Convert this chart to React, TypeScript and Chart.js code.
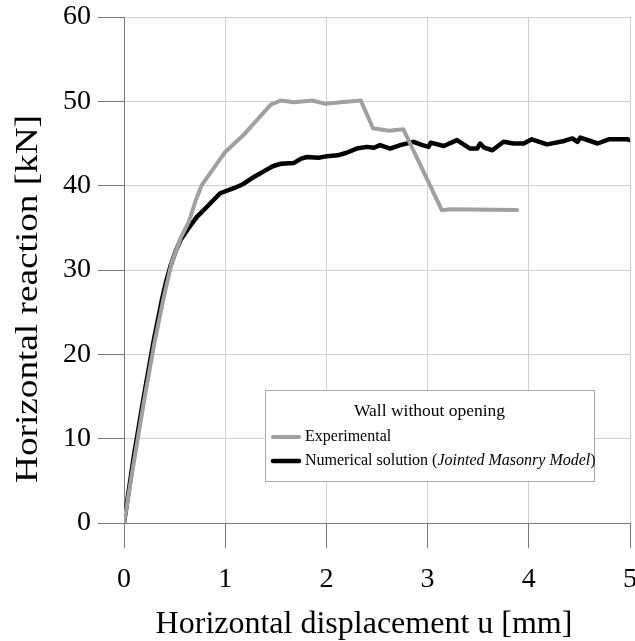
import React, { useEffect, useRef } from "react";
import { Chart, registerables } from "chart.js";

Chart.register(...registerables);

const expX = [0, 0.1, 0.2, 0.3, 0.39, 0.47, 0.56, 0.64, 0.71, 0.77, 1.0, 1.18, 1.45, 1.55, 1.68, 1.86, 1.99, 2.14, 2.34, 2.46, 2.62, 2.76, 3.14, 3.23, 3.885];
const expY = [0, 7.4, 14.6, 21.3, 26.6, 30.8, 33.8, 35.7, 38.3, 40.1, 44.0, 46.0, 49.6, 50.1, 49.9, 50.1, 49.7, 49.9, 50.1, 46.8, 46.5, 46.7, 37.1, 37.2, 37.1];

const numX = [0, 0.097, 0.196, 0.295, 0.377, 0.42, 0.46, 0.51, 0.56, 0.64, 0.72, 0.82, 0.95, 1.085, 1.18, 1.28, 1.38, 1.47, 1.55, 1.68, 1.75, 1.81, 1.92, 2.01, 2.11, 2.2, 2.3, 2.4, 2.47, 2.53, 2.63, 2.73, 2.86, 2.95, 3.01, 3.03, 3.16, 3.29, 3.42, 3.49, 3.52, 3.56, 3.64, 3.75, 3.85, 3.95, 4.03, 4.18, 4.35, 4.43, 4.48, 4.51, 4.68, 4.79, 4.97, 5.0];
const numY = [0, 7.9, 15.0, 21.7, 26.6, 28.8, 30.5, 32.2, 33.6, 35.0, 36.3, 37.5, 39.1, 39.7, 40.2, 41.0, 41.7, 42.3, 42.6, 42.7, 43.2, 43.4, 43.3, 43.5, 43.6, 43.9, 44.4, 44.6, 44.5, 44.8, 44.4, 44.8, 45.2, 44.8, 44.6, 45.1, 44.7, 45.4, 44.4, 44.4, 45.0, 44.5, 44.2, 45.2, 45.0, 45.0, 45.5, 44.9, 45.3, 45.6, 45.2, 45.7, 45.0, 45.5, 45.5, 45.4];

const legendTitle = "Wall without opening";
const expLabel = "Experimental";
const numLabelPlain = "Numerical solution (";
const numLabelItalic = "Jointed Masonry Model";
const numLabelEnd = ")";
const xTitle = "Horizontal displacement u [mm]";
const yTitle = "Horizontal reaction [kN]";

const SERIF = "'Liberation Serif', 'Times New Roman', serif";
const GRAY = "#a0a0a0";

const titlesPlugin = {
  id: "axisTitles",
  afterDraw(chart: any) {
    const { ctx, chartArea } = chart;
    ctx.save();
    ctx.fillStyle = "#000";
    ctx.font = `32px ${SERIF}`;
    ctx.textAlign = "center";
    ctx.textBaseline = "alphabetic";
    ctx.fillText(xTitle, chartArea.left + 240, chartArea.bottom + 110);
    const w = ctx.measureText(yTitle).width;
    const sx = 368 / w;
    ctx.translate(37, chartArea.top + 282);
    ctx.rotate(-Math.PI / 2);
    ctx.scale(sx, 1);
    ctx.fillText(yTitle, 0, 0);
    ctx.restore();
  },
};

const legendPlugin = {
  id: "boxLegend",
  afterDraw(chart: any) {
    const { ctx, chartArea } = chart;
    const left = chartArea.left + 141;
    const top = chartArea.top + 373;
    const w = 329;
    const h = 91;
    ctx.save();
    ctx.fillStyle = "#ffffff";
    ctx.fillRect(left, top, w, h);
    ctx.strokeStyle = "#a8a8a8";
    ctx.lineWidth = 1;
    ctx.strokeRect(left + 0.5, top + 0.5, w, h);
    ctx.fillStyle = "#000";
    ctx.textBaseline = "middle";
    ctx.textAlign = "center";
    ctx.font = `17.5px ${SERIF}`;
    ctx.fillText(legendTitle, left + w / 2, top + 21);
    ctx.textAlign = "left";
    const items = [
      { color: GRAY, y: top + 47, width: 4 },
      { color: "#000", y: top + 71, width: 4.5 },
    ];
    items.forEach((it) => {
      ctx.strokeStyle = it.color;
      ctx.lineWidth = it.width;
      ctx.lineCap = "round";
      ctx.beginPath();
      ctx.moveTo(left + 8, it.y);
      ctx.lineTo(left + 34, it.y);
      ctx.stroke();
    });
    ctx.font = `16px ${SERIF}`;
    const tx = left + 40;
    ctx.fillText(expLabel, tx, items[0].y);
    let x = tx;
    ctx.fillText(numLabelPlain, x, items[1].y);
    x += ctx.measureText(numLabelPlain).width;
    ctx.font = `italic 16px ${SERIF}`;
    ctx.fillText(numLabelItalic, x, items[1].y);
    x += ctx.measureText(numLabelItalic).width;
    ctx.font = `16px ${SERIF}`;
    ctx.fillText(numLabelEnd, x, items[1].y);
    ctx.restore();
  },
};

export default function App() {
  const ref = useRef<HTMLCanvasElement>(null);
  useEffect(() => {
    if (!ref.current) return;
    const chart = new Chart(ref.current, {
      type: "line",
      data: {
        datasets: [
          {
            label: expLabel,
            data: expX.map((x, i) => ({ x, y: expY[i] })),
            borderColor: GRAY,
            borderWidth: 4,
            pointRadius: 0,
            tension: 0,
            borderJoinStyle: "round",
            borderCapStyle: "round",
          },
          {
            label: "Numerical solution",
            data: numX.map((x, i) => ({ x, y: numY[i] })),
            borderColor: "#000",
            borderWidth: 4.5,
            pointRadius: 0,
            tension: 0,
            borderJoinStyle: "round",
            borderCapStyle: "round",
          },
        ],
      },
      options: {
        responsive: false,
        animation: false,
        layout: { padding: { top: 17, right: 5, left: 0, bottom: 0 } },
        plugins: { legend: { display: false }, tooltip: { enabled: false }, title: { display: false } },
        scales: {
          x: {
            type: "linear",
            min: 0,
            max: 5,
            afterFit: (s: any) => {
              s.height = 118;
              s.paddingLeft = 0;
              s.paddingRight = 0;
            },
            ticks: { stepSize: 1, color: "#000", font: { family: SERIF, size: 28 }, padding: 15 },
            grid: { color: "#d0d0d0", lineWidth: 1, tickLength: 25, tickColor: "#7a7a7a" },
            border: { display: true, color: "#7a7a7a", width: 1 },
            title: { display: false },
          },
          y: {
            type: "linear",
            min: 0,
            max: 60,
            afterFit: (s: any) => {
              s.width = 124;
              s.paddingTop = 0;
              s.paddingBottom = 0;
            },
            ticks: { stepSize: 10, color: "#000", font: { family: SERIF, size: 28 }, padding: 7 },
            grid: { color: "#d0d0d0", lineWidth: 1, tickLength: 26, tickColor: "#7a7a7a" },
            border: { display: true, color: "#7a7a7a", width: 1 },
            title: { display: false },
          },
        },
      },
      plugins: [legendPlugin, titlesPlugin],
    });
    return () => chart.destroy();
  }, []);
  return (
    <div style={{ position: "absolute", left: 0, top: 0, width: 635, height: 641, background: "#fff" }}>
      <canvas ref={ref} width={635} height={641} style={{ display: "block" }} />
    </div>
  );
}
